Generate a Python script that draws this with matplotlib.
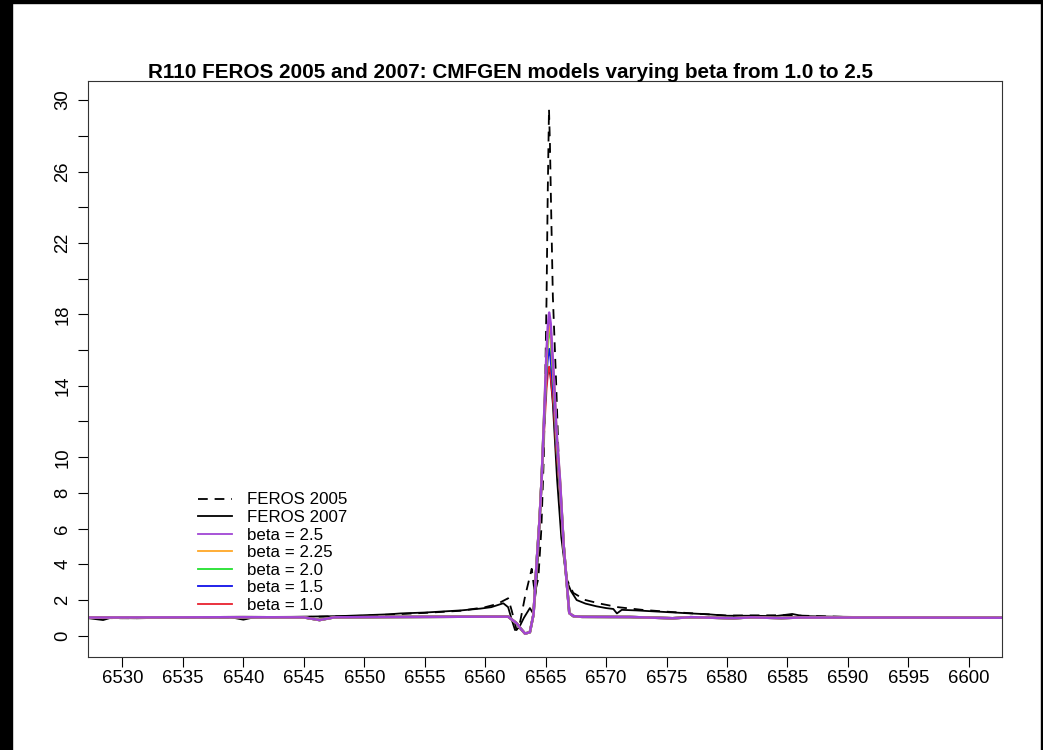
import matplotlib
matplotlib.use('Agg')
import matplotlib.pyplot as plt
from matplotlib.patches import Rectangle
import numpy as np

plt.rcParams['font.family'] = ['Liberation Sans', 'DejaVu Sans']

# FEROS 2005 (dashed)
wl_2005 = [6527, 6530, 6535, 6540, 6545, 6550, 6555, 6558, 6560, 6561, 6561.9, 6562.2, 6562.6,
           6562.9, 6563.3, 6563.85, 6564.1, 6564.4, 6564.65, 6564.85, 6564.97, 6565.08, 6565.17,
           6565.28, 6565.36, 6565.44, 6565.6, 6565.86, 6566.1, 6566.45, 6566.79, 6567.29, 6568.3,
           6569.5, 6571, 6573, 6575, 6580, 6585, 6590, 6595, 6600, 6603]
flux_2005 = [1.0, 0.98, 1.0, 1.02, 1.05, 1.12, 1.28, 1.4, 1.6, 1.78, 2.1, 1.4, 0.32,
             0.8, 2.2, 3.75, 2.4, 3.2, 6.0, 10.0, 14.4, 19.0, 24.5,
             29.5, 27.5, 24.5, 19.0, 14.4, 9.5, 5.0, 3.1, 2.4, 2.0,
             1.8, 1.6, 1.45, 1.35, 1.13, 1.15, 1.05, 1.02, 1.0, 1.0]

# FEROS 2007 (solid)
wl_2007 = [6527, 6528.4, 6529, 6531, 6533, 6535, 6537, 6539, 6540.0, 6541, 6544, 6546, 6548,
           6550, 6552, 6553, 6555, 6557, 6558, 6559.6, 6560.5, 6561.5, 6561.9, 6562.2, 6562.47,
           6562.8, 6563.2, 6563.7, 6563.95, 6564.2, 6564.45, 6564.75, 6564.95, 6565.1, 6565.25,
           6565.4, 6565.6, 6565.95, 6566.3, 6566.74, 6567.1, 6567.57, 6568.3, 6569.2, 6570.0,
           6570.6, 6570.9, 6571.3, 6572.5, 6574.9, 6577, 6578.5, 6580, 6582, 6584, 6585.4,
           6586.3, 6588.7, 6591, 6594, 6597, 6600, 6603]
flux_2007 = [1.0, 0.88, 1.0, 0.98, 1.0, 1.01, 1.02, 1.03, 0.9, 1.05, 1.06, 1.08, 1.1,
             1.15, 1.2, 1.25, 1.3, 1.38, 1.42, 1.52, 1.6, 1.82, 1.6, 0.9, 0.32,
             0.45, 1.0, 1.55, 1.27, 2.5, 5.5, 10.0, 13.0, 14.5, 15.0,
             14.6, 13.0, 8.75, 5.5, 3.1, 2.5, 2.0, 1.8, 1.65, 1.55,
             1.5, 1.25, 1.45, 1.42, 1.33, 1.25, 1.2, 1.12, 1.12, 1.1, 1.22,
             1.1, 1.07, 1.05, 1.03, 1.02, 1.01, 1.0]

# CMFGEN models, common wavelength grid
wl_model = [6527, 6535, 6540, 6545, 6546.3, 6547.5, 6552, 6556, 6560, 6561.9, 6562.6, 6563.0,
            6563.3, 6563.7, 6564.0, 6564.26, 6564.5, 6564.67, 6564.86, 6565.05, 6565.18, 6565.3,
            6565.42, 6565.55, 6565.69, 6565.9, 6566.19, 6566.5, 6566.96, 6567.29, 6568, 6572,
            6575.5, 6577, 6580.5, 6582, 6584.5, 6586, 6595, 6603]
base_head = [1.02, 1.03, 1.04, 1.03, 0.88, 1.03, 1.05, 1.06, 1.07, 1.07, 0.7, 0.35,
             0.12, 0.2, 1.2, 4.1, 6.5, 8.75]
base_tail = [5.0, 1.27, 1.1, 1.06, 1.05,
             0.98, 1.04, 0.98, 1.03, 0.99, 1.02, 1.02, 1.01]
core_25 = [12.0, 15.5, 17.3, 18.1, 17.5, 16.0, 14.4, 11.5, 8.75]
core_225 = [12.0, 15.2, 16.9, 17.65, 17.1, 15.7, 14.2, 11.3, 8.7]
core_20 = [11.9, 15.0, 16.6, 17.2, 16.7, 15.4, 14.0, 11.2, 8.6]
core_15 = [11.8, 14.6, 15.7, 16.05, 15.6, 14.6, 13.4, 10.9, 8.5]
core_10 = [11.5, 13.8, 14.8, 15.05, 14.7, 13.8, 12.8, 10.5, 8.3]

model_labels = ['beta = 2.5', 'beta = 2.25', 'beta = 2.0', 'beta = 1.5', 'beta = 1.0']
model_colors = ['#A045D4', '#FFA726', '#22E02E', '#1010E8', '#E8212E']
model_cores = [core_25, core_225, core_20, core_15, core_10]

fig = plt.figure(figsize=(10.43, 7.5), dpi=100)
ax = fig.add_axes([88/1043, 93/750, 914/1043, 576/750])

ax.plot(wl_2005, flux_2005, color='black', lw=1.3, dashes=(5.4, 3.8), label='FEROS 2005')
ax.plot(wl_2007, flux_2007, color='black', lw=1.3, label='FEROS 2007')
# draw beta=1.0 first so purple ends up on top
for lab, col, core in reversed(list(zip(model_labels, model_colors, model_cores))):
    ax.plot(wl_model, base_head + core + base_tail, color=col, lw=1.8, label=lab)

ax.set_xlim(6527.15, 6602.75)
ax.set_ylim(-1.19, 31.07)
ax.set_xticks(np.arange(6530, 6601, 5))
ax.set_yticks(np.arange(0, 31, 2))
ylabs = [str(v) if v in (0, 2, 4, 6, 8, 10, 14, 18, 22, 26, 30) else '' for v in range(0, 31, 2)]
ax.set_yticklabels(ylabs, rotation=90, va='center')
ax.tick_params(direction='out', length=7, width=0.8, labelsize=13.3)
ax.tick_params(axis='x', pad=2.5)
ax.tick_params(axis='y', pad=5)
for s in ax.spines.values():
    s.set_linewidth(0.8)
    s.set_color('#333333')

h, l = ax.get_legend_handles_labels()
order = [0, 1, 6, 5, 4, 3, 2]
leg = ax.legend([h[i] for i in order], [l[i] for i in order], loc='upper left',
                bbox_to_anchor=(102/914, (657 - 484)/576), frameon=False, fontsize=12.2,
                handlelength=1.95, handletextpad=0.9, labelspacing=0.15, borderpad=0)
for ln in leg.get_lines():
    ln.set_linewidth(1.3)

fig.text(511/1043, 1 - 72/750, 'R110 FEROS 2005 and 2007: CMFGEN models varying beta from 1.0 to 2.5',
         ha='center', va='center', fontsize=14.9, fontweight='bold')

# black border strips seen in the reference image
fig.add_artist(Rectangle((0, 0), 12/1043, 1, transform=fig.transFigure, color='black', zorder=10))
fig.add_artist(Rectangle((0, 1 - 3/750), 1, 3/750, transform=fig.transFigure, color='black', zorder=10))
fig.add_artist(Rectangle((1041/1043, 0), 2/1043, 1, transform=fig.transFigure, color='black', zorder=10))

fig.savefig('out.png', dpi=100)
